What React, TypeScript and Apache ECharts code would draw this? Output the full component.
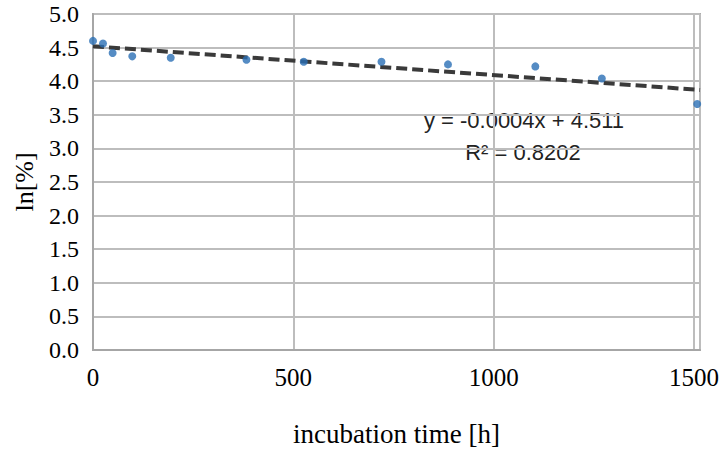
import React, { useEffect, useRef } from "react";
import * as echarts from "echarts";

const hours = [0, 25, 49, 98, 194, 383, 526, 720, 886, 1104, 1270, 1508];
const lnValues = [4.6, 4.56, 4.42, 4.37, 4.35, 4.32, 4.29, 4.29, 4.25, 4.22, 4.04, 3.66];
const trendX = [0, 1515];
const trendY = [4.52, 3.87];
const yTicks = ["0.0", "0.5", "1.0", "1.5", "2.0", "2.5", "3.0", "3.5", "4.0", "4.5", "5.0"];
const xTicks = ["0", "500", "1000", "1500"];
const equationText = "y = -0.0004x + 4.511";
const r2Text = "R² = 0.8202";

export default function App() {
  const ref = useRef<HTMLDivElement>(null);
  useEffect(() => {
    if (!ref.current) return;
    const chart = echarts.init(ref.current, null, { renderer: "svg" });
    const serif = "'Liberation Serif', 'Times New Roman', serif";
    const sans = "'Liberation Sans', Arial, sans-serif";
    chart.setOption({
      animation: false,
      backgroundColor: "#ffffff",
      grid: {
        left: 93,
        top: 14,
        right: 19,
        bottom: 98,
        show: true,
        borderColor: "#ababab",
        borderWidth: 2,
      },
      xAxis: {
        type: "value",
        min: 0,
        max: 1515,
        interval: 500,
        name: "incubation time [h]",
        nameLocation: "middle",
        nameGap: 70,
        nameTextStyle: { fontFamily: serif, fontSize: 27, color: "#000" },
        axisLine: { show: true, lineStyle: { color: "#a6a6a6", width: 2 } },
        axisTick: { show: false },
        axisLabel: {
          fontFamily: serif,
          fontSize: 25,
          color: "#000",
          margin: 15,
          showMaxLabel: false,
          formatter: (v: number) => xTicks[Math.round(v / 500)] ?? String(v),
        },
        splitLine: { show: true, lineStyle: { color: "#bdbdbd", width: 2 } },
      },
      yAxis: {
        type: "value",
        min: 0,
        max: 5,
        interval: 0.5,
        name: "ln[%]",
        nameLocation: "middle",
        nameGap: 56,
        nameTextStyle: { fontFamily: serif, fontSize: 26, color: "#000" },
        axisLine: { show: true, lineStyle: { color: "#a6a6a6", width: 2 } },
        axisTick: { show: false },
        axisLabel: {
          fontFamily: serif,
          fontSize: 24,
          color: "#000",
          margin: 14,
          formatter: (v: number) => yTicks[Math.round(v * 2)] ?? v.toFixed(1),
        },
        splitLine: { show: true, lineStyle: { color: "#bdbdbd", width: 2 } },
      },
      series: [
        {
          type: "line",
          data: trendX.map((x, i) => [x, trendY[i]]),
          symbol: "none",
          lineStyle: { color: "#3a3a3a", width: 4, type: [11, 5] },
          z: 2,
        },
        {
          type: "scatter",
          data: hours.map((h, i) => [h, lnValues[i]]),
          symbol: "circle",
          symbolSize: 8,
          itemStyle: { color: "#2a6fb5" },
          z: 3,
        },
      ],
      graphic: [
        {
          type: "text",
          x: 524,
          y: 120,
          style: {
            text: equationText,
            fontFamily: sans,
            fontSize: 22,
            fill: "#222222",
            align: "center",
            verticalAlign: "middle",
          },
        },
        {
          type: "text",
          x: 523,
          y: 152,
          style: {
            text: r2Text,
            fontFamily: sans,
            fontSize: 22,
            fill: "#222222",
            align: "center",
            verticalAlign: "middle",
          },
        },
      ],
    });
    return () => chart.dispose();
  }, []);
  return (
    <div
      ref={ref}
      style={{ position: "fixed", left: 0, top: 0, width: 722, height: 452 }}
    />
  );
}
